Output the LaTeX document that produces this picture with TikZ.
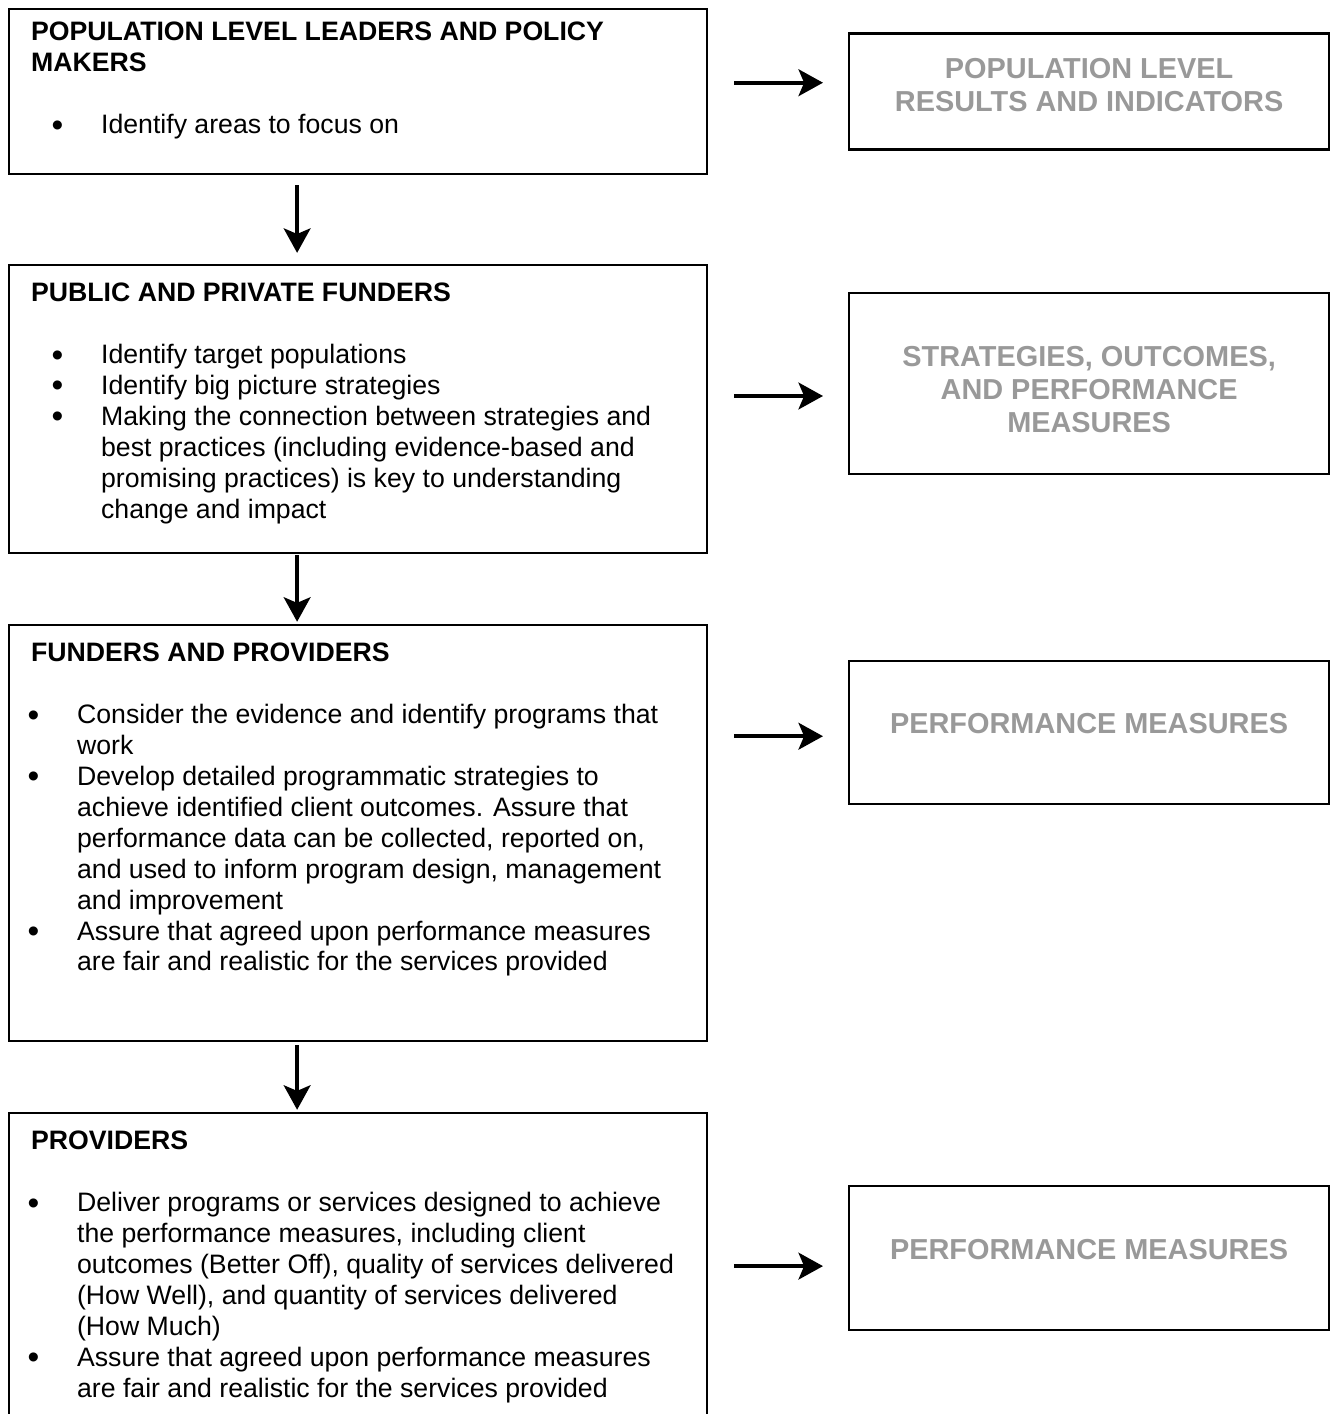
\documentclass[tikz,border=0pt]{standalone}
\usepackage{fontspec}
\setmainfont{Liberation Sans}
\usepackage{graphicx}
\usepackage{tikz}
\usetikzlibrary{positioning, arrows.meta}
\definecolor{labelgray}{RGB}{153,153,153}
\tikzstyle{leftbox} = [rectangle,
draw=black,
line width=1pt,
inner xsep=9.9pt,
inner ysep=7.8pt,
font=\fontsize{12}{13.9}\selectfont]
\tikzstyle{rightbox} = [rectangle,
draw=black,
line width=1pt,
minimum width=216pt,
text=labelgray,
align=center,
font=\fontsize{13}{15}\selectfont\bfseries]
\tikzstyle{flow} = [-{Stealth[length=11pt, width=12pt, inset=2.5pt]}, line width=1.8pt]

\newenvironment{dotlist}[1]{%
  \begin{list}{\llap{\raisebox{-1pt}{\scalebox{1.25}{\textbullet}}}}{%
    \setlength{\leftmargin}{#1}%
    \setlength{\labelsep}{17pt}%
    \setlength{\labelwidth}{\dimexpr#1-17pt\relax}%
    \setlength{\itemsep}{0pt}\setlength{\parsep}{0pt}%
    \setlength{\topsep}{0pt}\setlength{\partopsep}{0pt}}}%
  {\end{list}}
\newcommand{\boxbody}[3]{\parbox[t][#1][t]{294.3pt}{\textbf{#2}\par\vspace{14.35pt}#3}}
% extra depth / height to move a text up / down in its box
\newcommand{\liftby}[1]{\rule[-#1]{0pt}{0pt}}
\newcommand{\dropby}[2]{\raisebox{0pt}[\dimexpr\height+#1\relax][0pt]{#2}}

\begin{document}
\begin{tikzpicture}
		\useasboundingbox (0,0) rectangle (600.3pt,-636.3pt);
		% left column
		\node (pop) [leftbox, inner ysep=5.6pt, anchor=north west] at (3.6pt,-3.6pt) {\boxbody{63.05pt}{POPULATION LEVEL LEADERS AND POLICY\\MAKERS}{%
			\begin{dotlist}{31.5pt}
			\item Identify areas to focus on
			\end{dotlist}}};
		\node (fund) [leftbox, below=39.95pt of pop] {\boxbody{114pt}{PUBLIC AND PRIVATE FUNDERS}{%
			\begin{dotlist}{31.5pt}
			\item Identify target populations
			\item Identify big picture strategies
			\item Making the connection between strategies and\\best practices (including evidence-based and\\promising practices) is key to understanding\\change and impact
			\end{dotlist}}};
		\node (fpro) [leftbox, below=31.4pt of fund] {\boxbody{171.6pt}{FUNDERS AND PROVIDERS}{%
			\begin{dotlist}{20.7pt}
			\item Consider the evidence and identify programs that\\work
			\item Develop detailed programmatic strategies to\\achieve identified client outcomes. Assure that\\performance data can be collected, reported on,\\and used to inform program design, management\\and improvement
			\item Assure that agreed upon performance measures\\are fair and realistic for the services provided
			\end{dotlist}}};
		\node (prov) [leftbox, below=31.4pt of fpro] {\boxbody{137.4pt}{PROVIDERS}{%
			\begin{dotlist}{20.7pt}
			\item Deliver programs or services designed to achieve\\the performance measures, including client\\outcomes (Better Off), quality of services delivered\\(How Well), and quantity of services delivered\\(How Much)
			\item Assure that agreed upon performance measures\\are fair and realistic for the services provided
			\end{dotlist}}};
		% right column
		\node (res) [rightbox, minimum height=52.2pt, right=62.9pt of pop] {POPULATION LEVEL\\RESULTS AND INDICATORS\liftby{6.3pt}};
		\node (strat) [rightbox, minimum height=81.45pt, right=62.9pt of fund, yshift=11.5pt] {\dropby{5.4pt}{STRATEGIES, OUTCOMES,}\\AND PERFORMANCE\\MEASURES};
		\node (meas) [rightbox, minimum height=64.35pt, right=62.9pt of fpro, yshift=45.2pt] {PERFORMANCE MEASURES\liftby{8.1pt}};
		\node (measp) [rightbox, minimum height=64.8pt, right=62.9pt of prov, yshift=11.25pt] {PERFORMANCE MEASURES\liftby{8.1pt}};
		
		\coordinate (r1) at ([yshift=4pt]res.west);
		\coordinate (r2) at ([yshift=-5.6pt]strat.west);
		\coordinate (r3) at ([yshift=-1.6pt]meas.west);
		\coordinate (r4) at ([yshift=-3.6pt]measp.west);
		
		\draw [flow, shorten <=4.5pt, shorten >=5pt]([xshift=-27.45pt]pop.south) -- ([xshift=-27.45pt]fund.north);
		\draw [flow, shorten <=0.5pt, shorten >=1pt]([xshift=-27.45pt]fund.south) -- ([xshift=-27.45pt]fpro.north);
		\draw [flow, shorten <=1.3pt, shorten >=1pt]([xshift=-27.45pt]fpro.south) -- ([xshift=-27.45pt]prov.north);
		\draw [flow, shorten <=11.6pt, shorten >=11.25pt](pop.east |- r1) -- (r1);
		\draw [flow, shorten <=11.6pt, shorten >=11.25pt](fund.east |- r2) -- (r2);
		\draw [flow, shorten <=11.6pt, shorten >=11.25pt](fpro.east |- r3) -- (r3);
		\draw [flow, shorten <=11.6pt, shorten >=11.25pt](prov.east |- r4) -- (r4);
	\end{tikzpicture}
\end{document}
